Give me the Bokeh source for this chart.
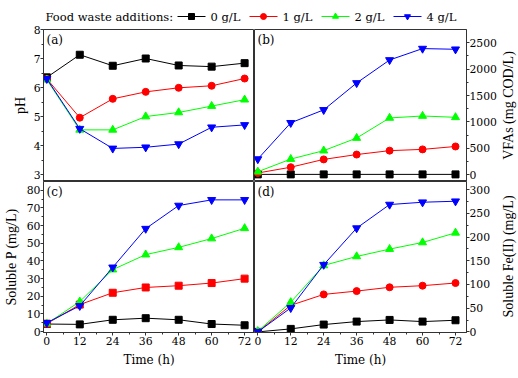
import math
from bokeh.plotting import figure
from bokeh.layouts import column, row
from bokeh.models import FixedTicker, Label, Range1d
from bokeh.embed import file_html
from bokeh.resources import INLINE
from bokeh.core.properties import value

# ---------------- data ----------------
time_h = [0, 12, 24, 36, 48, 60, 72]
series_labels = ["0 g/L", "1 g/L", "2 g/L", "4 g/L"]
series_colors = ["#000000", "#FF0000", "#00FF00", "#0000FF"]
series_markers = ["square", "circle", "triangle", "inverted_triangle"]
legend_title = "Food waste additions:"

ph_0 = [6.35, 7.13, 6.75, 7.00, 6.76, 6.72, 6.84]
ph_1 = [6.30, 4.96, 5.61, 5.85, 5.99, 6.06, 6.31]
ph_2 = [6.27, 4.54, 4.54, 5.00, 5.14, 5.36, 5.58]
ph_4 = [6.30, 4.58, 3.90, 3.94, 4.05, 4.63, 4.71]

vfa_0 = [5, 5, 5, 5, 5, 5, 5]
vfa_1 = [31, 141, 289, 381, 455, 479, 534]
vfa_2 = [55, 295, 455, 694, 1075, 1112, 1087]
vfa_4 = [295, 983, 1228, 1738, 2174, 2390, 2377]

sp_0 = [4.3, 4.1, 6.7, 7.6, 6.7, 4.3, 3.6]
sp_1 = [4.5, 15.3, 22.0, 25.0, 26.0, 27.5, 30.0]
sp_2 = [4.5, 17.0, 35.1, 43.6, 47.7, 52.7, 58.5]
sp_4 = [5.0, 14.6, 36.4, 58.3, 71.4, 74.6, 74.6]

fe_0 = [0, 6.3, 15.4, 21.7, 25.2, 21.7, 24.5]
fe_1 = [0, 56, 79, 86, 94, 97.4, 103]
fe_2 = [1.4, 62.4, 140, 159, 174.5, 188.5, 208.8]
fe_4 = [0, 50.5, 141.6, 218.7, 268.4, 273.3, 275.4]

x_ticks = [0, 12, 24, 36, 48, 60, 72]
x_minor = [6, 18, 30, 42, 54, 66]
ph_ticks = [3, 4, 5, 6, 7, 8]
vfa_ticks = [0, 500, 1000, 1500, 2000, 2500]
sp_ticks = [0, 10, 20, 30, 40, 50, 60, 70, 80]
fe_ticks = [0, 50, 100, 150, 200, 250, 300]

# horizontal texts: DejaVu Serif; rotated axis titles: Liberation Serif
HFONT = "DejaVu Serif"
VFONT = "'Liberation Serif', 'Times New Roman', serif"
EDGE = "#333333"
FW = 214
LB, RB = 40, 31
TOPB, BOTB = 6, 45
LEG_H = 23
RLAB_W = 18
TICK_SIZE = "10.8px"


def style_axis(ax):
    ax.major_label_text_font = HFONT
    ax.major_label_text_font_size = TICK_SIZE
    ax.major_label_text_color = "#000000"
    ax.axis_line_color = EDGE
    ax.major_tick_line_color = EDGE
    ax.minor_tick_line_color = EDGE
    ax.major_tick_in = 0
    ax.major_tick_out = 3
    ax.minor_tick_in = 0
    ax.minor_tick_out = 2
    ax.major_label_standoff = 0
    ax.axis_label_text_font_style = "normal"
    ax.axis_label_text_color = "#000000"


def make_panel(letter, xr, yr, yticks, ystep, ylabel, lab_standoff, side, bottom, data, markers):
    left = side == "left"
    fh = 152 if not bottom else 151
    width = FW + (LB if left else RB)
    height = fh + (BOTB if bottom else TOPB)
    p = figure(width=width, height=height, output_backend="svg", toolbar_location=None,
               x_range=Range1d(*xr), y_range=Range1d(*yr),
               x_axis_location=("below" if bottom else None),
               y_axis_location=side,
               min_border_left=(LB if left else 0), min_border_right=(0 if left else RB),
               min_border_top=(0 if bottom else TOPB), min_border_bottom=(BOTB if bottom else 0))
    p.outline_line_color = EDGE
    p.outline_line_width = 1
    p.xgrid.visible = False
    p.ygrid.visible = False
    p.background_fill_color = "white"
    p.border_fill_color = "white"
    ax = p.yaxis[0]
    style_axis(ax)
    minors = [t + ystep / 2 for t in yticks[:-1]]
    ax.ticker = FixedTicker(ticks=yticks, minor_ticks=minors)
    if ylabel:
        ax.axis_label = ylabel
        ax.axis_label_text_font = VFONT
        ax.axis_label_text_font_size = "14px"
        ax.axis_label_standoff = lab_standoff
    if bottom:
        bx = p.xaxis[0]
        style_axis(bx)
        bx.major_label_standoff = 1
        bx.ticker = FixedTicker(ticks=x_ticks, minor_ticks=x_minor)
        bx.axis_label = "Time (h)"
        bx.axis_label_text_font = HFONT
        bx.axis_label_text_font_size = "12px"
        bx.axis_label_standoff = 5
    for ys, c, m in zip(data, series_colors, markers):
        p.line(time_h, ys, line_color=c, line_width=1)
        sz = 8 if "triangle" in m else 7
        p.scatter(time_h, ys, marker=m, size=sz, fill_color=c, line_color=c)
    p.add_layout(Label(x=xr[0], y=yr[1], x_offset=3, y_offset=-3, text=letter,
                       text_font=HFONT, text_font_size="12px", text_baseline="top",
                       text_align="left", text_color="#000000"))
    return p


fa = make_panel("(a)", (-1.2, 75.6), (2.76, 8.0), ph_ticks, 1, "pH", 3, "left", False,
                [ph_0, ph_1, ph_2, ph_4], series_markers)
fb = make_panel("(b)", (-1.2, 76.0), (-130, 2752), vfa_ticks, 500, None, 0, "right", False,
                [vfa_0, vfa_1, vfa_2, vfa_4], series_markers)
fc = make_panel("(c)", (-1.2, 75.6), (-0.5, 85), sp_ticks, 10, "Soluble P (mg/L)", 5, "left", True,
                [sp_0, sp_1, sp_2, sp_4], ["square", "square", "triangle", "inverted_triangle"])
fd = make_panel("(d)", (-1.2, 76.0), (-1.3, 317), fe_ticks, 50, None, 0, "right", True,
                [fe_0, fe_1, fe_2, fe_4], series_markers)

# ---------------- right-side axis titles ----------------
rh = TOPB + 152 + 151 + BOTB
rl = figure(width=RLAB_W, height=rh, output_backend="svg", toolbar_location=None,
            x_range=Range1d(0, RLAB_W), y_range=Range1d(0, rh),
            x_axis_location=None, y_axis_location=None, min_border=0)
rl.outline_line_color = None
rl.xgrid.visible = False
rl.ygrid.visible = False
rl.text(x=[9], y=[rh - (TOPB + 76)], text=["VFAs (mg COD/L)"], angle=math.pi / 2,
        text_font=value(VFONT), text_font_size="14px",
        text_align="center", text_baseline="middle", text_color="#000000")
rl.text(x=[9], y=[rh - (TOPB + 152 + 75)], text=["Soluble Fe(II) (mg/L)"], angle=math.pi / 2,
        text_font=value(VFONT), text_font_size="14px",
        text_align="center", text_baseline="middle", text_color="#000000")

# ---------------- legend strip ----------------
lw = LB + 2 * FW + RB + RLAB_W
lg = figure(width=lw, height=LEG_H, output_backend="svg", toolbar_location=None,
            x_range=Range1d(0, lw), y_range=Range1d(0, LEG_H),
            x_axis_location=None, y_axis_location=None, min_border=0)
lg.outline_line_color = None
lg.xgrid.visible = False
lg.ygrid.visible = False
ly = LEG_H - 16
lg.text(x=[45], y=[ly], text=[legend_title], text_font=value(HFONT), text_font_size="11.5px",
        text_baseline="middle", text_align="left", text_color="#000000")
for i, (lab, c, m) in enumerate(zip(series_labels, series_colors, series_markers)):
    x0 = 177 + 72 * i
    lg.line([x0, x0 + 28], [ly, ly], line_color=c, line_width=1)
    lg.scatter([x0 + 14], [ly], marker=m, size=6, fill_color=c, line_color=c)
    lg.text(x=[x0 + 33], y=[ly], text=[lab], text_font=value(HFONT), text_font_size="11.5px",
            text_baseline="middle", text_align="left", text_color="#000000")

layout = column(lg, row(column(fa, fc), column(fb, fd), rl))
open("out.html", "w").write(file_html(layout, INLINE))
